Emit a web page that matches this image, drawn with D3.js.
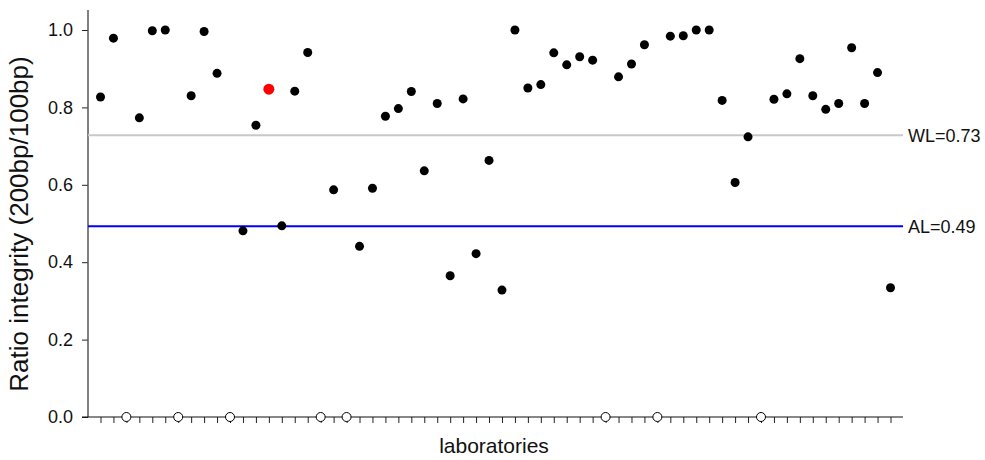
<!DOCTYPE html>
<html>
<head>
<meta charset="utf-8">
<script src="https://cdn.jsdelivr.net/npm/d3@7"></script>
<style>
  body { margin: 0; background: #fff; }
  svg { display: block; font-family: "Liberation Sans", Arial, sans-serif; }
</style>
</head>
<body>
<svg id="chart" width="985" height="460"></svg>
<script>
// Ratio integrity per laboratory (null = no result, drawn as open circle at 0)
const laboratories = d3.range(1, 63);
const ratios = [
  0.827, 0.979, null, 0.773, 0.998, 1.000, null, 0.830, 0.996, 0.888,
  null, 0.481, 0.754, 0.847, 0.494, 0.842, 0.942, null, 0.587, null,
  0.441, 0.591, 0.777, 0.797, 0.841, 0.636, 0.810, 0.365, 0.822, 0.422,
  0.663, 0.328, 1.000, 0.850, 0.859, 0.941, 0.910, 0.931, 0.922, null,
  0.879, 0.912, 0.962, null, 0.984, 0.985, 1.000, 1.000, 0.818, 0.606,
  0.724, null, 0.821, 0.835, 0.926, 0.830, 0.795, 0.810, 0.954, 0.810,
  0.890, 0.334
];
const highlightLab = 14;
const yTicks = [0.0, 0.2, 0.4, 0.6, 0.8, 1.0];
const limits = [
  { name: "WL", value: 0.728, label: "WL=0.73" },
  { name: "AL", value: 0.493, label: "AL=0.49" }
];
const yTitle = "Ratio integrity (200bp/100bp)";
const xTitle = "laboratories";

const svg = d3.select("#chart");
const axisX0 = 88, axisX1 = 903, plotTop = 10, plotBottom = 417;

const x = d3.scaleLinear().domain([1, 62]).range([100.5, 890.5]);
const y = d3.scaleLinear().domain([0, 1]).range([plotBottom, 30]);

// Y axis
const yAxis = d3.axisLeft(y).tickValues(yTicks).tickFormat(d3.format(".1f")).tickSize(6).tickPadding(9).tickSizeOuter(0);
const gy = svg.append("g").attr("transform", `translate(${axisX0},0)`).call(yAxis);
gy.select(".domain").remove();
gy.append("line").attr("x1", 0).attr("x2", 0).attr("y1", plotTop).attr("y2", plotBottom)
  .attr("stroke", "#555").attr("stroke-width", 1.5);
gy.selectAll(".tick line").attr("stroke", "#222");
gy.selectAll(".tick text").attr("font-size", 18).attr("fill", "#111")
  .attr("font-family", "'Liberation Sans', Arial, sans-serif");

// X axis
const xAxis = d3.axisBottom(x).tickValues(laboratories).tickFormat("").tickSize(6).tickSizeOuter(0);
const gx = svg.append("g").attr("transform", `translate(0,${plotBottom})`).call(xAxis);
gx.select(".domain").remove();
gx.append("line").attr("x1", 82).attr("x2", axisX1).attr("y1", 0).attr("y2", 0)
  .attr("stroke", "#111").attr("stroke-width", 1.2);
gx.selectAll(".tick line").attr("stroke", "#222");

// Limit lines
const limitColor = { WL: "#c8c8c8", AL: "#0000ff" };
limits.forEach(l => {
  svg.append("line").attr("x1", axisX0).attr("x2", axisX1)
    .attr("y1", y(l.value)).attr("y2", y(l.value))
    .attr("stroke", limitColor[l.name]).attr("stroke-width", 2);
  svg.append("text").attr("x", 908).attr("y", y(l.value)).attr("dy", "0.36em")
    .attr("font-size", 18).attr("fill", "#111").text(l.label);
});

// Points
const data = laboratories.map((lab, i) => ({ lab, v: ratios[i] }));
svg.append("g").selectAll("circle").data(data).join("circle")
  .attr("cx", d => x(d.lab))
  .attr("cy", d => y(d.v == null ? 0 : d.v))
  .attr("r", d => d.v == null ? 4.5 : (d.lab === highlightLab ? 5.5 : 4.5))
  .attr("fill", d => d.v == null ? "#fff" : (d.lab === highlightLab ? "#ff0000" : "#000"))
  .attr("stroke", d => d.v == null ? "#000" : "none")
  .attr("stroke-width", 1);

// Titles
svg.append("text").attr("transform", `translate(28,224) rotate(-90)`)
  .attr("text-anchor", "middle").attr("font-size", 26).attr("fill", "#111").text(yTitle);
svg.append("text").attr("x", 494).attr("y", 453).attr("text-anchor", "middle")
  .attr("font-size", 21).attr("fill", "#111").text(xTitle);
</script>
</body>
</html>
